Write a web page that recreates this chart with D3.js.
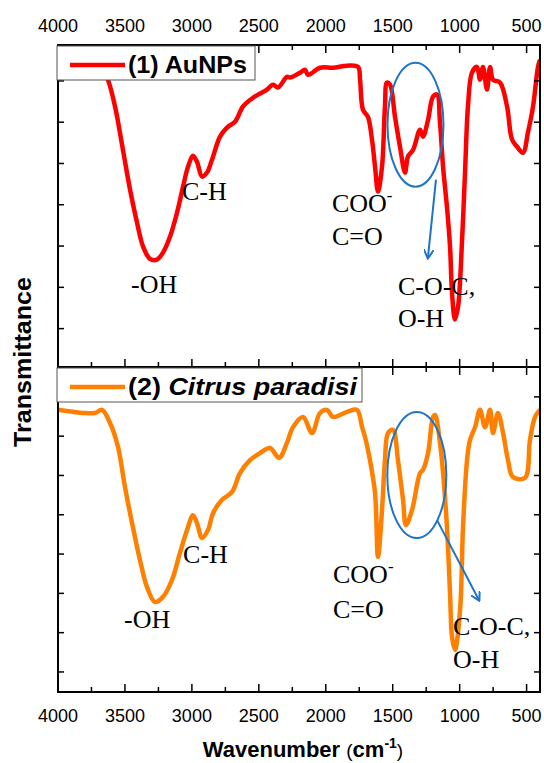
<!DOCTYPE html>
<html>
<head>
<meta charset="utf-8">
<script src="https://cdn.jsdelivr.net/npm/d3@7"></script>
<style>
  html, body { margin: 0; padding: 0; background: #fff; }
  svg { display: block; }
</style>
</head>
<body>
<svg id="chart"></svg>
<script>
const WIDTH = 544
const HEIGHT = 763

// Wavenumber axis
const xTicks = [4000, 3500, 3000, 2500, 2000, 1500, 1000, 500]
const xMinor = [3750, 3250, 2750, 2250, 1750, 1250, 750]

// (1) AuNPs spectrum: wavenumber (cm-1) and transmittance (a.u.)
const auWave = [4000, 3800, 3701, 3627, 3574, 3515, 3462, 3410, 3365, 3313, 3261, 3216, 3163, 3111, 3066, 3029, 2992, 2962, 2924, 2887, 2850, 2790, 2738, 2678, 2618, 2544, 2439, 2394, 2357, 2290, 2267, 2192, 2155, 2133, 2043, 1946, 1841, 1759, 1744, 1722, 1685, 1655, 1632, 1610, 1580, 1558, 1543, 1520, 1483, 1446, 1408, 1386, 1348, 1296, 1274, 1236, 1199, 1169, 1147, 1124, 1095, 1072, 1057, 1035, 1012, 982, 960, 938, 908, 871, 848, 826, 796, 773, 751, 699, 646, 609, 572, 527, 490, 452, 415, 400]
const auT = [7.71, 7.68, 7.51, 7.03, 6.38, 5.33, 4.37, 3.57, 2.99, 2.69, 2.67, 2.84, 3.23, 3.81, 4.44, 4.92, 5.19, 5.04, 4.68, 4.78, 5.09, 5.65, 5.87, 6.01, 6.38, 6.59, 6.79, 6.91, 6.84, 7.10, 7.08, 7.20, 7.27, 7.15, 7.32, 7.32, 7.37, 7.34, 7.03, 6.30, 6.13, 5.58, 4.92, 4.32, 4.92, 6.38, 6.96, 6.91, 6.13, 5.41, 4.78, 5.17, 5.33, 5.82, 5.65, 6.06, 6.62, 6.67, 5.99, 4.92, 3.95, 2.99, 1.87, 1.22, 1.53, 3.15, 4.78, 6.38, 7.20, 7.34, 7.03, 7.34, 6.79, 7.34, 7.03, 6.96, 6.38, 5.58, 5.41, 5.26, 5.75, 6.38, 7.34, 7.51]

// (2) Citrus paradisi spectrum
const cpWave = [4000, 3888, 3813, 3724, 3671, 3612, 3552, 3500, 3447, 3388, 3335, 3276, 3216, 3149, 3089, 3036, 2992, 2962, 2924, 2880, 2842, 2775, 2700, 2641, 2566, 2491, 2417, 2349, 2290, 2245, 2170, 2103, 2043, 1991, 1946, 1841, 1767, 1729, 1707, 1670, 1632, 1610, 1580, 1558, 1535, 1498, 1461, 1423, 1401, 1356, 1296, 1274, 1236, 1199, 1184, 1147, 1124, 1095, 1072, 1057, 1035, 997, 975, 945, 923, 885, 848, 811, 773, 751, 714, 676, 639, 602, 512, 475, 437, 400]
const cpT = [7.67, 7.62, 7.59, 7.59, 7.67, 7.34, 6.73, 5.71, 4.79, 3.85, 3.16, 2.78, 2.91, 3.34, 4.03, 4.61, 4.99, 4.79, 4.41, 4.61, 5.04, 5.38, 5.58, 6.06, 6.39, 6.57, 6.70, 6.45, 6.83, 7.23, 7.49, 7.08, 7.59, 7.67, 7.49, 7.62, 7.67, 7.23, 6.98, 6.39, 5.55, 3.93, 5.12, 6.39, 7.08, 7.16, 6.39, 5.38, 4.74, 5.12, 6.06, 6.14, 6.57, 7.49, 7.54, 6.83, 6.06, 4.69, 3.01, 1.89, 1.56, 2.58, 4.69, 6.39, 6.90, 7.23, 7.67, 7.23, 7.67, 7.08, 7.59, 7.08, 6.39, 5.96, 5.94, 6.90, 7.49, 7.67]

// Band annotations: [label, wavenumber, transmittance]
const auLabels = [['C-H', 3074, 4.12], ['-OH', 3455, 1.87], ['COO', 1954, 3.83], ['C=O', 1954, 3.03], ['C-O-C,', 1461, 1.82], ['O-H', 1461, 1.05]]
const cpLabels = [['C-H', 3066, 3.77], ['-OH', 3507, 2.12], ['COO', 1946, 3.26], ['C=O', 1946, 2.37], ['C-O-C,', 1050, 1.94], ['O-H', 1050, 1.1]]

const svg = d3.select('#chart').attr('width', WIDTH).attr('height', HEIGHT)

const x = d3.scaleLinear().domain([4000, 400]).range([58, 540])

const panels = [
    { top: 45, bottom: 367, yDomain: [0.07, 7.87], yTicks: [1, 2, 3, 4, 5, 6, 7],
      wave: auWave, t: auT, color: '#ff0000', labels: auLabels,
      ellipse: { w: 1330, t: 5.94, rx: 28, ry: 62 }, arrow: [[1177, 4.61], [1237, 2.72]],
      topLabels: true, bottomLabels: false },
    { top: 367, bottom: 692, yDomain: [0.49, 8.76], yTicks: [1, 2, 3, 4, 5, 6, 7, 8],
      wave: cpWave, t: cpT, color: '#ff8000', labels: cpLabels,
      ellipse: { w: 1320, t: 6.01, rx: 29.5, ry: 63 }, arrow: [[1170, 4.87], [856, 2.83]],
      topLabels: false, bottomLabels: true }
]

const defs = svg.append('defs')
defs.append('marker')
    .attr('id', 'arrowhead')
    .attr('viewBox', '0 0 10 10')
    .attr('refX', 8).attr('refY', 5)
    .attr('markerWidth', 5).attr('markerHeight', 5)
    .attr('orient', 'auto')
    .append('path')
    .attr('d', 'M0,0 L9,5 L0,10')
    .attr('fill', 'none')
    .attr('stroke', '#1f74c4')
    .attr('stroke-width', 2)

const serif = '"Liberation Serif", "Times New Roman", serif'
const sans = '"Liberation Sans", Arial, sans-serif'

panels.forEach((p, i) => {
    const y = d3.scaleLinear().domain(p.yDomain).range([p.bottom, p.top])
    const clipId = `clip-${i}`
    defs.append('clipPath').attr('id', clipId)
        .append('rect')
        .attr('x', 58).attr('y', p.top)
        .attr('width', 482).attr('height', p.bottom - p.top)

    const g = svg.append('g')

    // spectrum
    const line = d3.line()
        .x((d, j) => x(p.wave[j]))
        .y(d => y(d))
        .curve(d3.curveCatmullRom.alpha(0.5))
    g.append('path')
        .datum(p.t)
        .attr('clip-path', `url(#${clipId})`)
        .attr('fill', 'none')
        .attr('stroke', p.color)
        .attr('stroke-width', 4.5)
        .attr('stroke-linejoin', 'round')
        .attr('d', line)

    // band labels
    p.labels.forEach(([txt, w, t]) => {
        const el = g.append('text')
            .attr('x', x(w)).attr('y', y(t))
            .attr('font-family', serif)
            .attr('font-size', 26)
            .attr('fill', '#000')
            .text(txt)
        if (txt === 'COO') {
            el.append('tspan').attr('dy', -11).attr('font-size', 17).text('-')
        }
    })

    // ellipse + arrow
    g.append('ellipse')
        .attr('cx', x(p.ellipse.w)).attr('cy', y(p.ellipse.t))
        .attr('rx', p.ellipse.rx).attr('ry', p.ellipse.ry)
        .attr('fill', 'none')
        .attr('stroke', '#1f74c4')
        .attr('stroke-width', 2)
    g.append('line')
        .attr('x1', x(p.arrow[0][0])).attr('y1', y(p.arrow[0][1]))
        .attr('x2', x(p.arrow[1][0])).attr('y2', y(p.arrow[1][1]))
        .attr('stroke', '#1f74c4')
        .attr('stroke-width', 2)
        .attr('marker-end', 'url(#arrowhead)')

    // axes with inward ticks
    const axG = svg.append('g').attr('class', 'axes')
    const tickLen = 8, minorLen = 5
    const addX = (yPos, dir, labels) => {
        const a = axG.append('g').attr('transform', `translate(0,${yPos})`)
        a.selectAll('.maj').data(xTicks).enter().append('line')
            .attr('x1', d => x(d)).attr('x2', d => x(d))
            .attr('y1', 0).attr('y2', dir * tickLen)
            .attr('stroke', '#000').attr('stroke-width', 1.5)
        a.selectAll('.min').data(xMinor).enter().append('line')
            .attr('x1', d => x(d)).attr('x2', d => x(d))
            .attr('y1', 0).attr('y2', dir * minorLen)
            .attr('stroke', '#000').attr('stroke-width', 1.5)
        if (labels) {
            a.selectAll('text').data(xTicks).enter().append('text')
                .attr('x', d => x(d))
                .attr('y', labels === 'top' ? -13 : 30)
                .attr('text-anchor', 'middle')
                .attr('font-family', sans)
                .attr('font-size', 18)
                .attr('fill', '#000')
                .text(d => d)
        }
    }
    addX(p.top, 1, p.topLabels ? 'top' : null)
    addX(p.bottom, -1, p.bottomLabels ? 'bottom' : null)

    const addY = (xPos, dir) => {
        axG.append('g').selectAll('line').data(p.yTicks).enter().append('line')
            .attr('x1', xPos).attr('x2', xPos + dir * 6)
            .attr('y1', d => y(d)).attr('y2', d => y(d))
            .attr('stroke', '#000').attr('stroke-width', 1.5)
    }
    addY(58, 1)
    addY(540, -1)

    axG.append('rect')
        .attr('x', 58).attr('y', p.top)
        .attr('width', 482).attr('height', p.bottom - p.top)
        .attr('fill', 'none')
        .attr('stroke', '#000')
        .attr('stroke-width', 2)
})

// legends
const legends = [
    { x0: 57, y0: 46, w: 198, h: 34, color: '#ff0000', len: 119, parts: [['(1) AuNPs', 'normal']] },
    { x0: 57, y0: 368, w: 305, h: 34, color: '#ff8000', len: 229, parts: [['(2) ', 'normal'], ['Citrus paradisi', 'italic']] }
]
legends.forEach(l => {
    const g = svg.append('g')
    g.append('rect')
        .attr('x', l.x0).attr('y', l.y0).attr('width', l.w).attr('height', l.h)
        .attr('fill', '#fff').attr('stroke', '#555').attr('stroke-width', 1)
    g.append('line')
        .attr('x1', l.x0 + 13).attr('x2', l.x0 + 68)
        .attr('y1', l.y0 + 19).attr('y2', l.y0 + 19)
        .attr('stroke', l.color).attr('stroke-width', 4.5)
    const t = g.append('text')
        .attr('x', l.x0 + 71).attr('y', l.y0 + 27)
        .attr('font-family', sans).attr('font-weight', 'bold')
        .attr('font-size', 23).attr('fill', '#000')
        .attr('textLength', l.len).attr('lengthAdjust', 'spacingAndGlyphs')
    l.parts.forEach(([s, st]) => t.append('tspan').attr('font-style', st).text(s))
})

// axis titles
svg.append('text')
    .attr('transform', 'translate(31,362) rotate(-90)')
    .attr('text-anchor', 'middle')
    .attr('font-family', sans).attr('font-weight', 'bold')
    .attr('font-size', 24).attr('fill', '#000')
    .attr('textLength', 170).attr('lengthAdjust', 'spacingAndGlyphs')
    .text('Transmittance')

const xt = svg.append('text')
    .attr('x', 303).attr('y', 757)
    .attr('text-anchor', 'middle')
    .attr('font-family', sans).attr('font-weight', 'bold')
    .attr('font-size', 22).attr('fill', '#000')
xt.append('tspan').text('Wavenumber ')
xt.append('tspan').attr('font-weight', 'normal').attr('font-size', 19).text('(')
xt.append('tspan').text('cm')
xt.append('tspan').attr('dy', -9).attr('font-size', 14).text('-1')
xt.append('tspan').attr('dy', 9).attr('font-weight', 'normal').attr('font-size', 19).text(')')
</script>
</body>
</html>
